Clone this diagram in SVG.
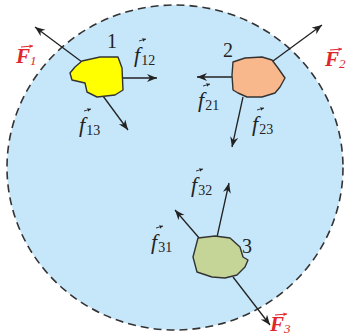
<svg xmlns="http://www.w3.org/2000/svg" width="350" height="336" viewBox="0 0 350 336">
<defs>
<style>
.sys{fill:#c6e6fa;stroke:#333;stroke-width:1.6;stroke-dasharray:8 5}
.body{stroke:#333;stroke-width:1.4;stroke-linejoin:round}
.arr{stroke:#222;stroke-width:1.3;fill:none;marker-end:url(#ah)}
.vec{stroke:#222;stroke-width:0.9;fill:none;marker-end:url(#vh)}
.vecr{stroke:#e0262b;stroke-width:1;fill:none;marker-end:url(#vhr)}
.num{font-family:"Liberation Serif",serif;font-size:20px;fill:#222}
.f{font-family:"Liberation Serif",serif;font-size:22px;font-style:italic;fill:#222}
.sub{font-size:14px;font-style:normal}
.F{font-family:"Liberation Serif",serif;font-size:21px;font-style:italic;font-weight:bold;fill:#e0262b}
.subF{font-size:13px;font-style:italic;font-weight:normal}
</style>
<marker id="ah" markerUnits="userSpaceOnUse" markerWidth="12" markerHeight="10" refX="10" refY="4" orient="auto">
<path d="M0,0 L10,4 L0,8 L3,4 Z" fill="#222"/>
</marker>
<marker id="vh" markerUnits="userSpaceOnUse" markerWidth="6" markerHeight="6" refX="4" refY="2" orient="auto">
<path d="M0,0 L4,2 L0,4 L1,2 Z" fill="#222"/>
</marker>
<marker id="vhr" markerUnits="userSpaceOnUse" markerWidth="6" markerHeight="6" refX="4" refY="2" orient="auto">
<path d="M0,0 L4,2 L0,4 L1,2 Z" fill="#e0262b"/>
</marker>
</defs>

<ellipse id="system" class="sys" cx="175" cy="167.5" rx="168" ry="162.5"/>

<g id="connectors">
<line class="arr" x1="82" y1="62" x2="35" y2="27"/>
<line class="arr" x1="122" y1="78" x2="157" y2="78"/>
<line class="arr" x1="103" y1="96" x2="128" y2="130"/>
<line class="arr" x1="273" y1="61" x2="322" y2="25"/>
<line class="arr" x1="232" y1="77" x2="197" y2="77"/>
<line class="arr" x1="243" y1="97" x2="232" y2="147"/>
<line class="arr" x1="217" y1="237" x2="229" y2="183"/>
<line class="arr" x1="200" y1="239" x2="175" y2="210"/>
<line class="arr" x1="233" y1="277" x2="270" y2="325"/>
</g>

<g id="body1">
<path class="body" fill="#ffff00" d="M82,61 L100,57 L118,57 L122,68 L123,90 L115,95 L97,97 L87,92 L85,83 L72,80 L70,73 L75,67 Z"/>
<text class="num" x="107" y="48">1</text>
</g>
<g id="body2">
<path class="body" fill="#f9b88b" d="M233,62 L245,58 L262,57 L272,60 L278,68 L285,78 L280,87 L275,93 L262,97 L247,97 L238,93 L233,90 L232,75 Z"/>
<text class="num" x="223" y="57">2</text>
</g>
<g id="body3">
<path class="body" fill="#c4d597" d="M198,238 L215,236 L230,238 L240,247 L243,257 L248,260 L245,267 L237,275 L225,278 L212,277 L197,272 L193,257 Z"/>
<text class="num" x="242" y="253">3</text>
</g>

<g id="labels">
<text class="F" x="16" y="63">F<tspan class="subF" dy="2">1</tspan></text>
<line class="vecr" x1="21" y1="47" x2="33" y2="46"/>
<text class="F" x="325" y="66">F<tspan class="subF" dy="2">2</tspan></text>
<line class="vecr" x1="330" y1="50" x2="342" y2="49"/>
<text class="F" x="270" y="331">F<tspan class="subF" dy="2">3</tspan></text>
<line class="vecr" x1="275" y1="315" x2="287" y2="314"/>

<text class="f" x="134" y="62">f<tspan class="sub" dx="1" dy="3">12</tspan></text>
<line class="vec" x1="139" y1="41" x2="146" y2="39"/>
<text class="f" x="79" y="132">f<tspan class="sub" dx="1" dy="3">13</tspan></text>
<line class="vec" x1="84" y1="111" x2="91" y2="109"/>
<text class="f" x="198" y="107">f<tspan class="sub" dx="1" dy="3">21</tspan></text>
<line class="vec" x1="203" y1="86" x2="210" y2="84"/>
<text class="f" x="252" y="131">f<tspan class="sub" dx="1" dy="3">23</tspan></text>
<line class="vec" x1="257" y1="110" x2="264" y2="108"/>
<text class="f" x="191" y="192">f<tspan class="sub" dx="1" dy="3">32</tspan></text>
<line class="vec" x1="196" y1="171" x2="203" y2="169"/>
<text class="f" x="151" y="249">f<tspan class="sub" dx="1" dy="3">31</tspan></text>
<line class="vec" x1="156" y1="228" x2="163" y2="226"/>
</g>
</svg>
